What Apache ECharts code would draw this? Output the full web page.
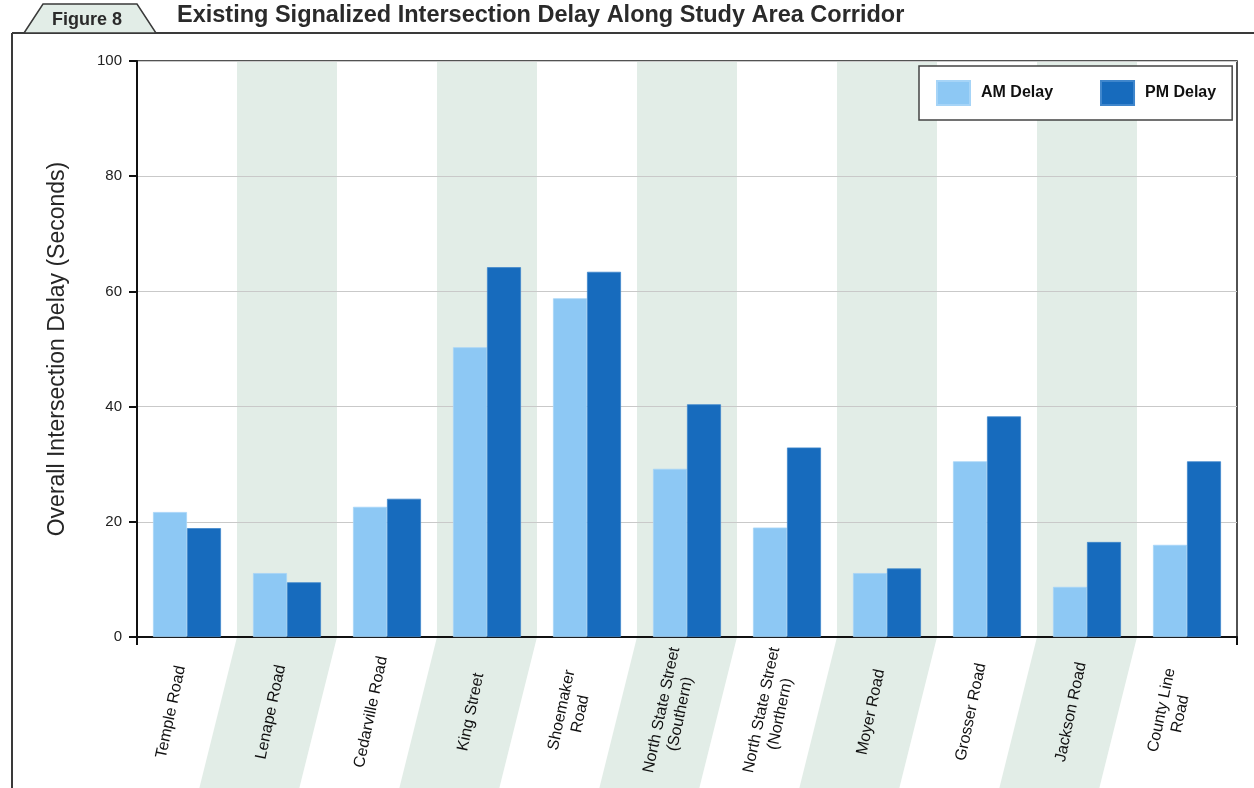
<!DOCTYPE html>
<html>
<head>
<meta charset="utf-8">
<title>Existing Signalized Intersection Delay Along Study Area Corridor</title>
<script src="https://cdn.jsdelivr.net/npm/echarts@6/dist/echarts.min.js"></script>
<style>
  html, body { margin: 0; padding: 0; background: #ffffff; }
  #chart { width: 1254px; height: 788px; }
</style>
</head>
<body>
<div id="chart"></div>
<script>
// Signalized intersections along the corridor, west to east
const intersections = [
  'Temple Road', 'Lenape Road', 'Cedarville Road', 'King Street', 'Shoemaker\nRoad',
  'North State Street\n(Southern)', 'North State Street\n(Northern)', 'Moyer Road',
  'Grosser Road', 'Jackson Road', 'County Line\nRoad'
];
// Overall intersection delay, seconds
const amDelay = [21.7, 11.1, 22.6, 50.3, 58.8, 29.2, 19.0, 11.1, 30.5, 8.7, 16.0];
const pmDelay = [18.9, 9.5, 24.0, 64.2, 63.4, 40.4, 32.9, 11.9, 38.3, 16.5, 30.5];
// Alternate intersections get a tinted column behind them
const shadedColumns = [1, 3, 5, 7, 9];
const yTicks = { min: 0, max: 100, interval: 20 };

const FONT = '"Liberation Sans", Arial, sans-serif';
const BAND_ANGLE = 76;
const LABEL_ANGLE = 78;
const SLANT = Math.tan((90 - BAND_ANGLE) * Math.PI / 180);

const chart = echarts.init(document.getElementById('chart'), null, { renderer: 'canvas' });

// Tinted column: full height inside the plot, then slanted down through the label area
function renderBand(params, api) {
  const idx = api.value(0);
  const base = api.coord([idx, yTicks.min]);
  const topY = api.coord([idx, yTicks.max])[1];
  const w = api.size([1, 0])[0];
  const left = base[0] - w / 2;
  const right = base[0] + w / 2;
  const y0 = base[1];
  const y1 = api.getHeight();
  const skew = (y1 - y0) * SLANT;
  return {
    type: 'polygon',
    shape: {
      points: [
        [left, topY], [right, topY], [right, y0],
        [right - skew, y1], [left - skew, y1], [left, y0]
      ]
    },
    style: { fill: '#e2ede7' },
    silent: true
  };
}

const headerGraphics = [
  { id: 'rule-top', type: 'line', shape: { x1: 12, y1: 33, x2: 1254, y2: 33 }, style: { stroke: '#3a3a3a', lineWidth: 2 }, z: 10 },
  { id: 'rule-left', type: 'line', shape: { x1: 12, y1: 33, x2: 12, y2: 788 }, style: { stroke: '#3a3a3a', lineWidth: 2 }, z: 10 },
  {
    id: 'tab', type: 'polygon',
    shape: { points: [[24, 33], [43, 4], [137, 4], [156, 33]] },
    style: { fill: '#e2ede7', stroke: '#3a3a3a', lineWidth: 1.5 },
    z: 11
  },
  {
    id: 'tab-text', type: 'text', x: 87, y: 20,
    style: { text: 'Figure 8', fontFamily: FONT, fontWeight: 'bold', fontSize: 18, fill: '#2a2a2a', align: 'center', verticalAlign: 'middle' },
    z: 12
  },
  {
    id: 'title', type: 'text', x: 177, y: 16,
    style: { text: 'Existing Signalized Intersection Delay Along Study Area Corridor', fontFamily: FONT, fontWeight: 'bold', fontSize: 23.5, fill: '#2a2a2a', align: 'left', verticalAlign: 'middle' },
    z: 12
  }
];

const option = {
  backgroundColor: '#ffffff',
  animation: false,
  textStyle: { fontFamily: FONT },
  graphic: { elements: headerGraphics },
  legend: {
    data: ['AM Delay', 'PM Delay'],
    left: 919,
    top: 66,
    orient: 'horizontal',
    itemWidth: 33,
    itemHeight: 24,
    itemGap: 47,
    padding: [14, 16, 14, 17],
    backgroundColor: '#ffffff',
    borderColor: '#444444',
    borderWidth: 1.5,
    textStyle: { fontFamily: FONT, fontSize: 16, fontWeight: 'bold', color: '#111111', padding: [0, 0, 0, 6] },
    icon: 'rect'
  },
  grid: {
    left: 137, right: 17, top: 61, bottom: 151,
    show: true,
    borderColor: '#1a1a1a',
    borderWidth: 1.5,
    backgroundColor: 'transparent'
  },
  xAxis: {
    type: 'category',
    data: intersections,
    axisLine: { lineStyle: { color: '#111111', width: 2 } },
    axisTick: {
      show: true,
      length: 8,
      interval: (i) => i === 0,
      lineStyle: { color: '#111111', width: 2 }
    },
    axisLabel: { show: false },
    splitLine: { show: false }
  },
  yAxis: {
    type: 'value',
    min: yTicks.min,
    max: yTicks.max,
    interval: yTicks.interval,
    name: 'Overall Intersection Delay (Seconds)',
    nameLocation: 'middle',
    nameGap: 68,
    nameTextStyle: { fontFamily: FONT, fontSize: 23, color: '#262626' },
    axisLine: { show: true, lineStyle: { color: '#111111', width: 2 } },
    axisTick: { show: true, length: 8, lineStyle: { color: '#111111', width: 2 } },
    axisLabel: { fontFamily: FONT, fontSize: 15, color: '#222222', margin: 15 },
    splitLine: { show: true, lineStyle: { color: '#c9c9c9', width: 1 } }
  },
  series: [
    {
      name: 'bands',
      type: 'custom',
      data: shadedColumns.map(i => [i]),
      encode: { x: 0 },
      renderItem: renderBand,
      clip: false,
      silent: true,
      z: -1
    },
    {
      name: 'AM Delay',
      type: 'bar',
      data: amDelay,
      barGap: '0%',
      barCategoryGap: '32%',
      itemStyle: { color: '#8dc8f4', borderColor: '#a6d4f7', borderWidth: 0.8 }
    },
    {
      name: 'PM Delay',
      type: 'bar',
      data: pmDelay,
      barGap: '0%',
      barCategoryGap: '32%',
      itemStyle: { color: '#176bbd', borderColor: '#3f86cc', borderWidth: 0.8 }
    }
  ]
};

chart.setOption(option);

// Slanted intersection names, centred in the label strip below each category
const axisY = chart.convertToPixel({ yAxisIndex: 0 }, yTicks.min);
const nameLabels = intersections.map((name, i) => {
  const cx = chart.convertToPixel({ xAxisIndex: 0 }, i);
  return {
    id: 'cat-' + i,
    type: 'text',
    x: cx - 16,
    y: axisY + 75,
    rotation: LABEL_ANGLE * Math.PI / 180,
    style: {
      text: name,
      fontFamily: FONT,
      fontSize: 16,
      lineHeight: 19,
      fill: '#111111',
      align: 'center',
      verticalAlign: 'middle'
    },
    z: 5
  };
});
chart.setOption({ graphic: { elements: headerGraphics.concat(nameLabels) } });
</script>
</body>
</html>
